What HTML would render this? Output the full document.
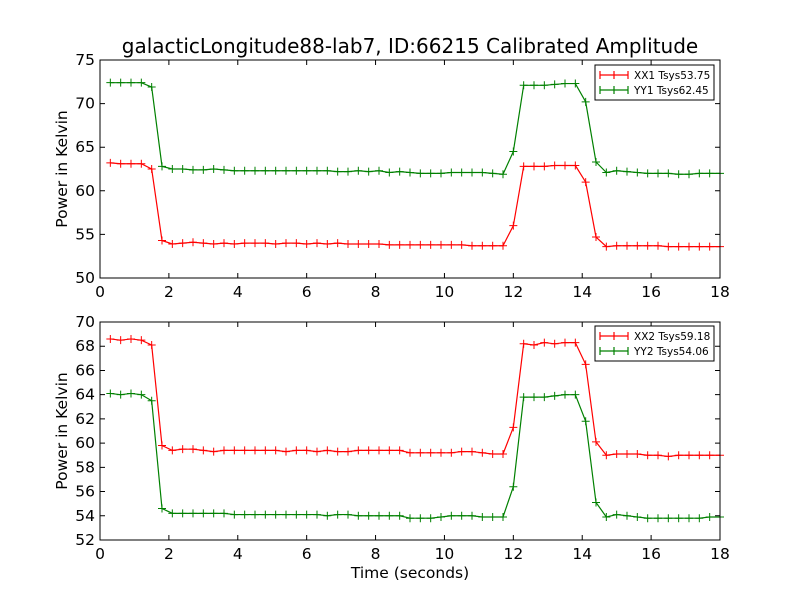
<!DOCTYPE html>
<html><head><meta charset="utf-8"><style>
html,body{margin:0;padding:0;background:#fff;}
svg{display:block;font-family:"DejaVu Sans","Liberation Sans",sans-serif;}
</style></head><body>
<svg id="chart" width="800" height="600" viewBox="0 0 800 600" xmlns="http://www.w3.org/2000/svg">
<rect width="800" height="600" fill="#fff"/>
<text x="410" y="53" font-size="20" text-anchor="middle">galacticLongitude88-lab7, ID:66215 Calibrated Amplitude</text>
<text x="410" y="578" font-size="15.5" text-anchor="middle">Time (seconds)</text>
</svg>
<script>
const t0 = 0.3, dt = 0.3;
const xx1 = [63.2,63.1,63.1,63.1,62.5,54.3,
53.9,54.0,54.1,54.0,53.9,54.0,53.9,54.0,54.0,54.0,53.9,54.0,54.0,53.9,54.0,53.9,54.0,53.9,53.9,53.9,53.9,53.8,53.8,53.8,53.8,53.8,53.8,53.8,53.8,53.7,53.7,53.7,53.7,
56.0,62.8,62.8,62.8,62.9,62.9,62.9,61.0,54.7,
53.6,53.7,53.7,53.7,53.7,53.7,53.6,53.6,53.6,53.6,53.6,53.6];
const yy1 = [72.4,72.4,72.4,72.4,71.9,62.8,
62.5,62.5,62.4,62.4,62.5,62.4,62.3,62.3,62.3,62.3,62.3,62.3,62.3,62.3,62.3,62.3,62.2,62.2,62.3,62.2,62.3,62.1,62.2,62.1,62.0,62.0,62.0,62.1,62.1,62.1,62.1,62.0,61.9,
64.5,72.1,72.1,72.1,72.2,72.3,72.3,70.2,63.3,
62.1,62.3,62.2,62.1,62.0,62.0,62.0,61.9,61.9,62.0,62.0,62.0];
const xx2 = [68.6,68.5,68.6,68.5,68.1,59.8,
59.4,59.5,59.5,59.4,59.3,59.4,59.4,59.4,59.4,59.4,59.4,59.3,59.4,59.4,59.3,59.4,59.3,59.3,59.4,59.4,59.4,59.4,59.4,59.2,59.2,59.2,59.2,59.2,59.3,59.3,59.2,59.1,59.1,
61.3,68.2,68.1,68.3,68.2,68.3,68.3,66.5,60.1,
59.0,59.1,59.1,59.1,59.0,59.0,58.9,59.0,59.0,59.0,59.0,59.0];
const yy2 = [64.1,64.0,64.1,64.0,63.5,54.6,
54.2,54.2,54.2,54.2,54.2,54.2,54.1,54.1,54.1,54.1,54.1,54.1,54.1,54.1,54.1,54.0,54.1,54.1,54.0,54.0,54.0,54.0,54.0,53.8,53.8,53.8,53.9,54.0,54.0,54.0,53.9,53.9,53.9,
56.4,63.8,63.8,63.8,63.9,64.0,64.0,61.8,55.1,
53.9,54.1,54.0,53.9,53.8,53.8,53.8,53.8,53.8,53.8,53.9,53.9];
const xTicks = [0,2,4,6,8,10,12,14,16,18];
const yTicksTop = [50,55,60,65,70,75];
const yTicksBot = [52,54,56,58,60,62,64,66,68,70];
const legendTop = ["XX1 Tsys53.75","YY1 Tsys62.45"];
const legendBot = ["XX2 Tsys59.18","YY2 Tsys54.06"];

const NS = "http://www.w3.org/2000/svg";
const svg = document.getElementById('chart');
function mk(tag, attrs, parent){const e=document.createElementNS(NS,tag);for(const k in attrs)e.setAttribute(k,attrs[k]);(parent||svg).appendChild(e);return e;}

function panel(name, top, bottom, ymin, ymax, yTicks, s1, s2, labels, legY){
  const L=100,R=720;
  const g = mk('g',{});
  
  
  const xs = v => L + (v-0)/(18-0)*(R-L);
  const ys = v => bottom - (v-ymin)/(ymax-ymin)*(bottom-top);
  xTicks.forEach(v=>{
    const x=xs(v);
    const tk = mk('path',{d:`M${x} ${bottom}v-5M${x} ${top}v5`,stroke:'#000','stroke-width':1},g);
    
    
    const tl = mk('text',{x:x,y:bottom+19,'font-size':15.5,'text-anchor':'middle'},g);
    tl.textContent=v;
    
    
  });
  yTicks.forEach(v=>{
    const y=ys(v);
    const tk = mk('path',{d:`M${L} ${y}h5M${R} ${y}h-5`,stroke:'#000','stroke-width':1},g);
    
    
    const tl = mk('text',{x:L-5,y:y+5,'font-size':15.5,'text-anchor':'end'},g);
    tl.textContent=v;
    
    
  });
  const yt = mk('text',{x:0,y:0,'font-size':15.5,'text-anchor':'middle',transform:`translate(67 ${(top+bottom)/2}) rotate(-90)`},g);
  yt.textContent='Power in Kelvin';
  
  
  [[s1,'#ff0000'],[s2,'#008000']].forEach(([arr,col],si)=>{
    const pts = arr.map((v,i)=>[xs(t0+i*dt), ys(v)]);
    const ln = mk('polyline',{points:pts.map(p=>p.join(',')).join(' '),fill:'none',stroke:col,'stroke-width':1.2},g);
    
    
    const mp = mk('path',{d:pts.map(p=>`M${p[0]-4} ${p[1]}h8M${p[0]} ${p[1]-4}v8`).join(''),stroke:col,'stroke-width':1},g);
    
    
  });
  const fr = mk('rect',{x:L,y:top,width:R-L,height:bottom-top,fill:'none',stroke:'#000','stroke-width':1},g);
  
  
  const lg = mk('g',{},g);
  
  
  const lx=595, lw=119;
  mk('rect',{x:lx,y:legY,width:lw,height:35,fill:'#fff',stroke:'#000','stroke-width':1},lg);
  labels.forEach((lab,i)=>{
    const y=legY+10+i*15, col=i?'#008000':'#ff0000';
    const le = mk('g',{},lg);
    
    
    mk('path',{d:`M${lx+5} ${y}h28M${lx+19} ${y-4}v8M${lx+5} ${y-4}v8M${lx+33} ${y-4}v8`,stroke:col,'stroke-width':1.2},le);
    const tx = mk('text',{x:lx+39,y:y+4,'font-size':10.5},le);
    tx.textContent=lab;
  });
}
panel('top-panel',60,278,50,75,yTicksTop,xx1,yy1,legendTop,65);
panel('bottom-panel',322,540,52,70,yTicksBot,xx2,yy2,legendBot,326);
</script>
</body></html>
